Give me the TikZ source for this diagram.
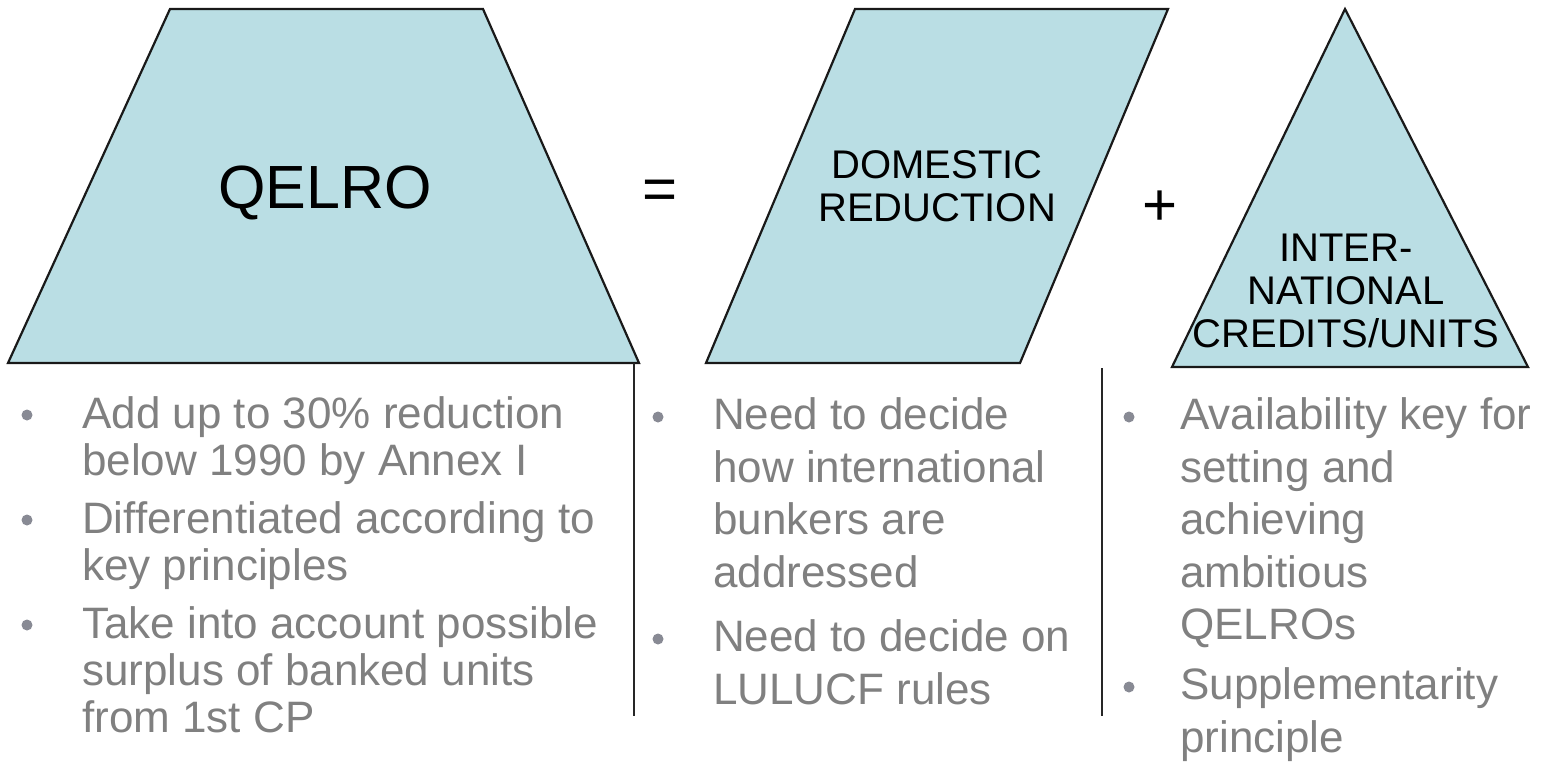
\documentclass[tikz,border=0pt]{standalone}
\usepackage{fontspec}
\setmainfont{Liberation Sans}
\definecolor{shapefill}{RGB}{186,222,228}
\definecolor{notegray}{RGB}{128,128,128}
\definecolor{dotgray}{RGB}{136,138,148}
\tikzset{
  block/.style={draw=black!90, line width=2.2pt, fill=shapefill, line join=miter},
  shapetext/.style={align=center, inner sep=0pt, font=\fontsize{40}{43}\selectfont},
  sign/.style={inner sep=0pt, font=\fontsize{60}{62}\selectfont},
  note/.style={anchor=north west, align=left, inner sep=0pt, text=notegray},
  dot/.style={circle, fill=dotgray, inner sep=0pt, minimum size=11pt},
  divider/.style={draw=black!85, line width=2pt}
}
\begin{document}
\begin{tikzpicture}[x=1pt, y=-1pt]
\useasboundingbox (0,0) rectangle (1542,764);
\draw[block] (170,9) -- (483,9) -- (639,363) coordinate (qbr) -- (8,363) -- cycle;
\draw[block] (855,9) -- (1168,9) -- (1020,363) -- (706,363) -- cycle;
\draw[block] (1345,9) coordinate (apex) -- (1528,367) -- (1172,367) -- cycle;
\node[inner sep=0pt, font=\fontsize{61}{64}\selectfont] (qelro) at (325,193) {QELRO};
\node[shapetext] (domestic) at (937,186) {DOMESTIC\\REDUCTION};
\node[shapetext] (intl) at (1346,291) {INTER-\\NATIONAL\\CREDITS/UNITS};
\node[sign] (eq) at (660,195) {=};
\node[sign] (plus) at (1160,208) {+};
\coordinate (foot) at (0,716);
\draw[divider] (634,363) coordinate (sepa) -- (sepa |- foot);
\draw[divider] (1102,368) coordinate (sepb) -- (sepb |- foot);
\begin{scope}[font=\fontsize{44}{47}\selectfont]
\node[note] (qa) at (82,395) {\strut Add up to 30\% reduction\\below 1990 by Annex I};
\node[note] (qb) at (82,500) {\strut Differentiated according to\\key principles};
\node[note] (qc) at (82,605) {\strut Take into account possible\\surplus of banked units\\from 1st CP};
\end{scope}
\begin{scope}[font=\fontsize{44}{52.5}\selectfont]
\node[note] (da) at (713,393) {\strut Need to decide\\how international\\bunkers are\\addressed};
\node[note] (db) at (713,615) {\strut Need to decide on\\LULUCF rules};
\node[note] (ia) at (1180,393) {\strut Availability key for\\setting and\\achieving\\ambitious\\QELROs};
\node[note] (ib) at (1180,663) {\strut Supplementarity\\principle};
\end{scope}
\foreach \n/\dx/\dy in {qa/55/20, qb/55/20, qc/55/20, da/55/24, db/55/24, ia/51/24, ib/51/24}
  \node[dot] at ([xshift=-\dx pt, yshift=-\dy pt]\n.north west) {};
\end{tikzpicture}
\end{document}
